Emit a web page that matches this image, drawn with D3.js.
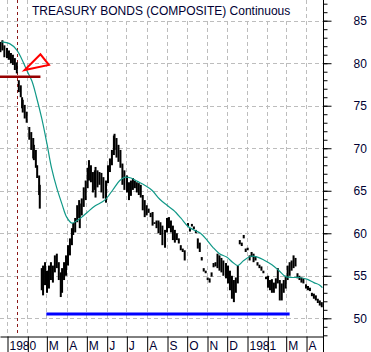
<!DOCTYPE html>
<html>
<head>
<meta charset="utf-8">
<style>
  body { margin: 0; background: #fff; }
  text { font-family: 'Liberation Sans', Arial, sans-serif; font-size: 12px; fill: #000033; }
</style>
</head>
<body>
<svg width="371" height="352"></svg>
<script src="https://d3js.org/d3.v7.min.js"></script>
<script>
// daily-ish high/low bars
var barDates = ["1979-12-22","1979-12-25","1979-12-28","1980-01-01","1980-01-04","1980-01-07","1980-01-10","1980-01-13","1980-01-16","1980-01-19",
  "1980-01-22","1980-01-24","1980-01-25","1980-01-28","1980-01-31","1980-02-04","1980-02-07","1980-02-10","1980-02-11","1980-02-14",
  "1980-02-16","1980-02-19","1980-02-20","1980-02-23","1980-02-25","1980-02-28","1980-03-02","1980-03-05","1980-03-08","1980-03-11",
  "1980-03-14","1980-03-17","1980-03-20","1980-03-23","1980-03-25","1980-03-28","1980-03-31","1980-04-03","1980-04-06","1980-04-09",
  "1980-04-11","1980-04-14","1980-04-17","1980-04-20","1980-04-21","1980-04-24","1980-04-27","1980-04-30","1980-05-03","1980-05-05",
  "1980-05-08","1980-05-11","1980-05-14","1980-05-15","1980-05-18","1980-05-21","1980-05-24","1980-05-27","1980-05-31","1980-06-03",
  "1980-06-06","1980-06-09","1980-06-12","1980-06-13","1980-06-16","1980-06-19","1980-06-22","1980-06-25","1980-06-28","1980-07-02",
  "1980-07-05","1980-07-08","1980-07-11","1980-07-14","1980-07-17","1980-07-20","1980-07-23","1980-07-26","1980-07-29","1980-08-01",
  "1980-08-04","1980-08-07","1980-08-10","1980-08-13","1980-08-16","1980-08-19","1980-08-22","1980-08-25","1980-08-29","1980-09-01",
  "1980-09-04","1980-09-07","1980-09-10","1980-09-13","1980-09-16","1980-09-19","1980-09-22","1980-09-25","1980-09-28","1980-10-03",
  "1980-10-06","1980-10-09","1980-10-12","1980-10-15","1980-10-18","1980-10-21","1980-10-24","1980-10-27","1980-10-30","1980-11-02",
  "1980-11-05","1980-11-08","1980-11-11","1980-11-14","1980-11-17","1980-11-20","1980-11-23","1980-11-26","1980-11-30","1980-12-03",
  "1980-12-06","1980-12-09","1980-12-12","1980-12-15","1980-12-18","1980-12-21","1980-12-24","1980-12-27","1980-12-30","1981-01-02",
  "1981-01-05","1981-01-08","1981-01-11","1981-01-14","1981-01-17","1981-01-20","1981-01-23","1981-01-26","1981-01-30","1981-02-02",
  "1981-02-05","1981-02-08","1981-02-11","1981-02-14","1981-02-17","1981-02-20","1981-02-23","1981-02-26","1981-03-01","1981-03-04",
  "1981-03-07","1981-03-10","1981-03-13","1981-03-16","1981-03-19","1981-03-22","1981-03-25","1981-03-28","1981-04-01","1981-04-04",
  "1981-04-07","1981-04-10","1981-04-13","1981-04-16","1981-04-19","1981-04-22","1981-04-25"];
var barHigh = [82.5,82.7,82.1,81.8,81.5,81.2,81.0,80.6,80.1,78.0,
  77.4,76.0,75.7,75.1,74.3,72.5,71.9,71.2,70.4,69.8,
  68.0,66.8,65.7,55.9,56.2,56.6,55.6,56.2,56.6,56.2,
  57.4,57.6,56.6,55.4,55.9,56.6,57.4,58.6,59.4,60.6,
  61.2,61.8,63.3,63.9,63.5,64.1,65.4,66.2,67.7,68.6,
  68.0,67.2,67.4,67.8,67.4,67.2,67.1,66.6,66.2,68.0,
  68.8,69.8,71.5,71.7,71.2,70.4,69.8,68.2,67.4,66.8,
  66.0,66.2,66.5,66.2,66.0,65.9,65.7,64.5,63.9,63.3,
  62.9,62.4,62.5,61.3,61.5,61.5,61.3,60.9,60.4,61.8,
  61.9,61.5,60.9,60.4,60.0,59.4,58.6,58.2,58.0,61.2,
  60.6,61.1,60.8,60.4,59.4,58.9,57.2,55.9,55.6,54.8,
  54.7,55.4,56.5,56.6,57.6,57.4,57.1,56.8,56.5,56.2,
  55.6,55.0,54.5,54.8,56.2,59.2,58.9,59.8,58.2,58.3,
  57.4,57.8,57.6,57.3,56.6,56.3,56.1,55.6,54.9,55.0,
  54.5,54.6,54.2,54.7,55.9,54.5,54.1,54.5,55.0,56.2,
  56.6,56.8,57.4,57.1,55.3,55.0,54.8,54.7,54.0,53.8,
  53.6,53.0,52.9,52.7,52.3,52.1,51.9];
var barLow = [81.3,81.5,80.7,80.6,80.4,80.0,79.8,79.2,78.8,76.6,
  76.0,74.7,74.2,73.5,73.0,71.0,69.8,68.8,68.6,67.7,
  66.5,64.5,62.9,53.3,52.7,53.9,53.0,53.5,54.5,54.2,
  55.4,55.9,54.5,52.5,53.0,54.5,55.0,56.2,57.4,58.6,
  59.8,60.1,61.3,61.8,60.6,62.1,63.1,63.9,65.3,66.2,
  66.0,64.8,65.1,64.2,65.4,65.7,64.8,64.1,63.6,65.9,
  67.2,68.0,69.2,69.8,68.9,68.4,67.7,65.7,65.1,64.8,
  63.9,64.4,65.1,65.3,64.8,64.5,64.2,62.7,61.9,62.1,
  62.4,61.9,60.9,61.1,60.6,60.0,59.8,58.6,58.3,60.1,
  60.6,60.1,59.2,58.9,59.2,58.8,58.0,57.8,56.8,60.8,
  60.2,60.8,60.5,60.0,58.2,57.8,56.8,55.5,55.3,54.5,
  54.2,54.9,56.0,56.1,55.9,55.6,55.4,55.0,54.7,54.1,
  53.3,52.3,51.9,53.0,54.1,58.7,58.5,59.4,57.8,58.0,
  56.8,57.2,56.6,56.8,56.2,55.9,55.6,55.3,54.6,53.6,
  53.3,53.0,53.0,53.5,54.1,52.1,52.1,53.0,53.5,54.5,
  55.0,55.6,55.9,56.1,54.7,54.5,54.2,54.1,53.5,53.3,
  53.2,52.6,52.3,52.1,51.8,51.5,51.3];

// moving average (teal line)
var maDates = ["1979-12-24","1980-01-05","1980-01-16","1980-01-24","1980-01-31","1980-02-08","1980-02-15","1980-02-23","1980-03-02","1980-03-09",
  "1980-03-17","1980-03-25","1980-04-01","1980-04-09","1980-04-17","1980-04-24","1980-05-03","1980-05-14","1980-05-29","1980-06-10",
  "1980-06-21","1980-06-29","1980-07-08","1980-07-18","1980-07-29","1980-08-09","1980-08-21","1980-09-01","1980-09-11","1980-09-22",
  "1980-10-03","1980-10-13","1980-10-22","1980-11-01","1980-11-10","1980-11-20","1980-12-01","1980-12-10","1980-12-18","1980-12-27",
  "1981-01-07","1981-01-17","1981-01-28","1981-02-08","1981-02-19","1981-03-01","1981-03-12","1981-03-22","1981-04-02","1981-04-13",
  "1981-04-22","1981-04-26"];
var maValues = [82.5,82.3,81.55,80.4,79.2,77.9,76.0,73.5,70.5,67.65,
  65.3,63.4,61.9,61.2,61.5,61.9,62.5,63.2,63.9,65.06,
  66.2,66.6,66.5,66.1,65.65,65.06,64.0,63.3,62.7,61.8,
  60.8,60.35,60.0,59.2,58.35,57.6,57.2,56.6,56.2,56.8,
  57.3,57.2,56.8,56.3,55.6,54.9,54.8,54.8,54.6,54.2,
  53.9,53.6];

var yTicks = [50, 55, 60, 65, 70, 75, 80, 85];
var monthDates = ["1980-01-01","1980-02-01","1980-03-01","1980-04-01","1980-05-01","1980-06-01","1980-07-01","1980-08-01",
  "1980-09-01","1980-10-01","1980-11-01","1980-12-01","1981-01-01","1981-02-01","1981-03-01","1981-04-01"];
var monthLabels = ["1980","","M","A","M","J","J","A","S","O","N","D","1981","","M","A"];

// annotations
var topLineDates = ["1979-12-21","1980-02-21"], topLineValue = 78.4;
var markerDate = "1980-01-16";
var arrowDates = ["1980-01-28","1980-02-21","1980-03-05"], arrowValues = [79.2, 81.05, 79.8];
var floorDates = ["1980-03-01","1981-03-07"], floorValue = 50.5;

var parse = d3.utcParse("%Y-%m-%d");
var svg = d3.select("svg");
var plotW = 323, plotH = 336;

var x = d3.scaleUtc().domain([parse("1980-01-01"), parse("1981-01-01")]).range([7, 247]);
x.domain([x.invert(0), x.invert(plotW)]).range([0, plotW]);
var y = d3.scaleLinear().domain([50, 85]).range([318.3, 20.7]);

svg.append("rect").attr("width", 371).attr("height", 352).attr("fill", "#fff");

// grid
var grid = svg.append("g").attr("stroke", "#bdbdbd").attr("stroke-dasharray", "4,3");
grid.selectAll("line.h").data(yTicks).enter().append("line")
    .attr("x1", 0).attr("x2", plotW)
    .attr("y1", function(d) { return Math.round(y(d)) + 0.5; })
    .attr("y2", function(d) { return Math.round(y(d)) + 0.5; });
grid.selectAll("line.v").data(monthDates).enter().append("line")
    .attr("y1", 0).attr("y2", plotH)
    .attr("x1", function(d) { return Math.round(x(parse(d))) + 0.5; })
    .attr("x2", function(d) { return Math.round(x(parse(d))) + 0.5; });

// title box
svg.append("rect").attr("x", 30).attr("y", 0).attr("width", 262).attr("height", 19).attr("fill", "#fff");
svg.append("text").attr("x", 32).attr("y", 15).text("TREASURY BONDS (COMPOSITE) Continuous");

// dashed marker line
svg.append("line")
    .attr("x1", Math.round(x(parse(markerDate))) + 0.5).attr("x2", Math.round(x(parse(markerDate))) + 0.5)
    .attr("y1", 0).attr("y2", plotH)
    .attr("stroke", "#8b1a1a").attr("stroke-dasharray", "3,3");

// price bars
var bars = barDates.map(function(d, i) {
    return { date: parse(d), hi: barHigh[i], lo: barLow[i] };
});
svg.append("g").selectAll("rect").data(bars).enter().append("rect")
    .attr("x", function(d) { return x(d.date) - 1; })
    .attr("width", 2)
    .attr("y", function(d) { return y(d.hi); })
    .attr("height", function(d) { return Math.max(1.5, y(d.lo) - y(d.hi)); })
    .attr("fill", "#000");

// moving average
var ma = maDates.map(function(d, i) { return { date: parse(d), v: maValues[i] }; });
svg.append("path").datum(ma)
    .attr("fill", "none").attr("stroke", "#119988").attr("stroke-width", 1.2)
    .attr("d", d3.line().curve(d3.curveCatmullRom)
        .x(function(d) { return x(d.date); })
        .y(function(d) { return y(d.v); }));

// dark red resistance line
svg.append("line")
    .attr("x1", x(parse(topLineDates[0]))).attr("x2", x(parse(topLineDates[1])))
    .attr("y1", y(topLineValue)).attr("y2", y(topLineValue))
    .attr("stroke", "#960000").attr("stroke-width", 2.5);

// red arrow marker
svg.append("path")
    .datum(arrowDates.map(function(d, i) { return [x(parse(d)), y(arrowValues[i])]; }))
    .attr("d", function(d) { return "M" + d.join("L") + "Z"; })
    .attr("fill", "none").attr("stroke", "#ff0000").attr("stroke-width", 2);

// blue floor line
svg.append("line")
    .attr("x1", x(parse(floorDates[0]))).attr("x2", x(parse(floorDates[1])))
    .attr("y1", y(floorValue)).attr("y2", y(floorValue))
    .attr("stroke", "#0000ff").attr("stroke-width", 3);

// right axis
var yMinor = d3.range(48, 88);
var yAxisG = svg.append("g").attr("transform", "translate(" + (plotW + 0.5) + ",0)");
yAxisG.call(d3.axisRight(y).tickValues(yMinor).tickSize(4).tickSizeOuter(0).tickFormat(""));
yAxisG.append("g").call(d3.axisRight(y).tickValues(yTicks).tickSize(8).tickPadding(22).tickSizeOuter(0))
    .call(function(g) { g.select(".domain").remove(); });
yAxisG.select(".domain").attr("d", "M0,0V352");
yAxisG.selectAll("text").attr("font-size", 12).attr("fill", "#000033")
    .attr("font-family", "'Liberation Sans', Arial, sans-serif");

// bottom axis
var xAxisG = svg.append("g").attr("transform", "translate(0," + (plotH + 0.5) + ")");
xAxisG.call(d3.axisBottom(x).tickValues(monthDates.map(parse)).tickSize(16).tickSizeOuter(0)
    .tickFormat(function(d, i) { return monthLabels[i]; }));
xAxisG.selectAll(".tick line").attr("transform", "translate(0.5,0)");
xAxisG.selectAll("text")
    .attr("x", 2).attr("y", 13).attr("dy", 0).attr("text-anchor", "start")
    .attr("font-size", 12).attr("fill", "#000033")
    .attr("font-family", "'Liberation Sans', Arial, sans-serif");
</script>
</body>
</html>
